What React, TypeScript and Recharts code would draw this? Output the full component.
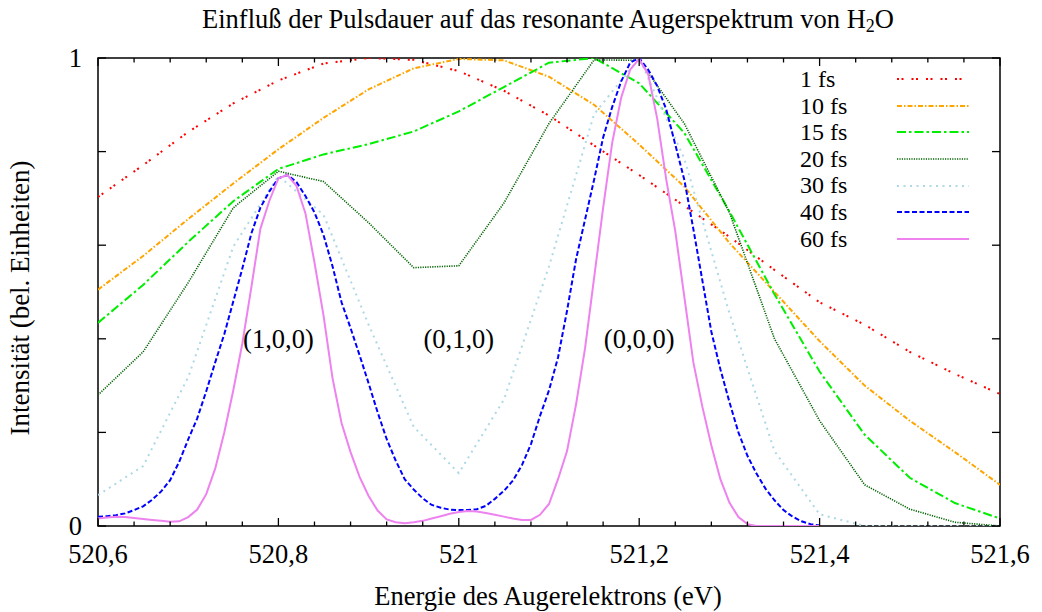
import React from "react";
import { LineChart, Line, XAxis, YAxis, ReferenceArea, ReferenceDot, Legend } from "recharts";

const FONT = "'Liberation Serif', 'Times New Roman', serif";
const FS = 26.5;
const W = 1042;
const H = 612;
const M = { top: 58, right: 42, bottom: 85, left: 97 };
const PLOT_W = 902;
const PLOT_H = 468;

// energy grids (eV)
const energyCoarse = [
  520.6, 520.65, 520.7, 520.75, 520.8, 520.85, 520.9, 520.95, 521.0, 521.05, 521.1,
  521.15, 521.2, 521.25, 521.3, 521.35, 521.4, 521.45, 521.5, 521.55, 521.6,
];
const energyFine = Array.from({ length: 81 }, (_, i) => Math.round((520.6 + i * 0.01) * 100) / 100);

// intensities
const fs1 = [0.703, 0.771, 0.842, 0.903, 0.952, 0.988, 1.0, 0.996, 0.972, 0.93, 0.877, 0.813, 0.75, 0.684, 0.618, 0.547, 0.478, 0.43, 0.372, 0.325, 0.282];
const fs10 = [0.505, 0.577, 0.656, 0.732, 0.805, 0.872, 0.933, 0.978, 0.998, 0.995, 0.96, 0.9, 0.815, 0.725, 0.605, 0.5, 0.395, 0.3, 0.225, 0.158, 0.088];
const fs15 = [0.434, 0.515, 0.607, 0.694, 0.763, 0.794, 0.816, 0.843, 0.886, 0.938, 0.99, 1.0, 0.946, 0.84, 0.672, 0.495, 0.33, 0.195, 0.103, 0.049, 0.016];
const fs20 = [0.28, 0.372, 0.52, 0.68, 0.758, 0.736, 0.648, 0.552, 0.556, 0.69, 0.86, 0.996, 0.995, 0.86, 0.67, 0.4, 0.225, 0.088, 0.036, 0.008, 0.0];
const fs30 = [0.066, 0.128, 0.318, 0.597, 0.748, 0.665, 0.43, 0.212, 0.113, 0.27, 0.555, 0.88, 1.0, 0.785, 0.455, 0.16, 0.025, 0.0, 0.0, 0.0, 0.0];
const fs40 = [
  0.02, 0.021, 0.023, 0.027, 0.034, 0.042, 0.056, 0.074, 0.098, 0.137,
  0.185, 0.23, 0.288, 0.35, 0.41, 0.48, 0.55, 0.625, 0.68, 0.715,
  0.743, 0.75, 0.735, 0.705, 0.67, 0.622, 0.555, 0.478, 0.423, 0.365,
  0.305, 0.243, 0.186, 0.14, 0.1, 0.078, 0.059, 0.045, 0.039, 0.035,
  0.034, 0.034, 0.036, 0.043, 0.058, 0.075, 0.097, 0.13, 0.175, 0.235,
  0.29, 0.36, 0.46, 0.57, 0.655, 0.74, 0.83, 0.895, 0.95, 0.99,
  1.0, 0.975, 0.94, 0.89, 0.815, 0.74, 0.635, 0.525, 0.415, 0.335,
  0.265, 0.2, 0.15, 0.112, 0.08, 0.055, 0.034, 0.02, 0.01, 0.004,
  0.001,
];
const fs60 = [
  0.016, 0.018, 0.02, 0.019, 0.017, 0.015, 0.013, 0.011, 0.009, 0.01,
  0.019, 0.035, 0.068, 0.123, 0.2, 0.29, 0.39, 0.51, 0.635, 0.695,
  0.743, 0.75, 0.727, 0.668, 0.563, 0.45, 0.316, 0.22, 0.158, 0.105,
  0.064, 0.033, 0.014, 0.008, 0.006, 0.008, 0.011, 0.016, 0.021, 0.026,
  0.03, 0.032, 0.031, 0.028, 0.024, 0.02, 0.016, 0.013, 0.013, 0.024,
  0.047, 0.1, 0.16, 0.26, 0.38, 0.53, 0.68, 0.818, 0.915, 0.975,
  0.998, 0.965, 0.87, 0.74, 0.63, 0.49, 0.35, 0.255, 0.172, 0.1,
  0.05, 0.019, 0.004, 0, 0, 0, 0, 0, 0, 0,
  0,
];

const xTicks = [
  520.6, 520.64, 520.68, 520.72, 520.76, 520.8, 520.84, 520.88, 520.92, 520.96, 521.0,
  521.04, 521.08, 521.12, 521.16, 521.2, 521.24, 521.28, 521.32, 521.36, 521.4,
  521.44, 521.48, 521.52, 521.56, 521.6,
];
const xLabelTicks = [520.6, 520.8, 521.0, 521.2, 521.4, 521.6];
const yTicks = [0, 0.2, 0.4, 0.6, 0.8, 1];
const yLabelTicks = [0, 1];

const peakLabels = [
  { energy: 520.8, level: 0.4, text: "(1,0,0)" },
  { energy: 521.0, level: 0.4, text: "(0,1,0)" },
  { energy: 521.2, level: 0.4, text: "(0,0,0)" },
];

const series = [
  { key: "fs1", name: "1 fs", values: fs1, grid: energyCoarse, color: "#ff0000", dash: "2 2.5 2 8", width: 2 },
  { key: "fs10", name: "10 fs", values: fs10, grid: energyCoarse, color: "#ffa500", dash: "5 2 1.5 2", width: 2 },
  { key: "fs15", name: "15 fs", values: fs15, grid: energyCoarse, color: "#00ee00", dash: "9 3 2.5 3", width: 2 },
  { key: "fs20", name: "20 fs", values: fs20, grid: energyCoarse, color: "#006400", dash: "1.2 1.2", width: 1.6 },
  { key: "fs30", name: "30 fs", values: fs30, grid: energyCoarse, color: "#add8e6", dash: "2 4.5", width: 2 },
  { key: "fs40", name: "40 fs", values: fs40, grid: energyFine, color: "#0000ff", dash: "5 2.5", width: 2 },
  { key: "fs60", name: "60 fs", values: fs60, grid: energyFine, color: "#ee82ee", dash: undefined, width: 2 },
];

const near = (list: number[], v: number) => list.some((t) => Math.abs(t - v) < 1e-6);
const fmt = (v: number) => String(Math.round(v * 10) / 10).replace(".", ",");

function XTick(props: any) {
  const { x, y, payload } = props;
  const major = near(xLabelTicks, payload.value);
  const len = major ? 8 : 4.5;
  return (
    <g>
      <line x1={x} x2={x} y1={y} y2={y - len} stroke="#000" strokeWidth={1.3} />
      <line x1={x} x2={x} y1={y - PLOT_H} y2={y - PLOT_H + len} stroke="#000" strokeWidth={1.3} />
      {major && (
        <text x={x} y={y + 37} textAnchor="middle" fontFamily={FONT} fontSize={FS} fill="#000">
          {fmt(payload.value)}
        </text>
      )}
    </g>
  );
}

function YTick(props: any) {
  const { x, y, payload } = props;
  const major = near(yLabelTicks, payload.value);
  return (
    <g>
      <line x1={x} x2={x + 8} y1={y} y2={y} stroke="#000" strokeWidth={1.3} />
      <line x1={x + PLOT_W} x2={x + PLOT_W - 8} y1={y} y2={y} stroke="#000" strokeWidth={1.3} />
      {major && (
        <text x={x - 16} y={y + 9} textAnchor="end" fontFamily={FONT} fontSize={FS} fill="#000">
          {fmt(payload.value)}
        </text>
      )}
    </g>
  );
}

function LegendBox() {
  return (
    <div style={{ fontFamily: FONT, fontSize: 24, color: "#000" }}>
      {series.map((s) => (
        <div key={s.key} style={{ display: "flex", alignItems: "center", height: 26.6 }}>
          <span style={{ width: 97, lineHeight: "26.6px", whiteSpace: "nowrap" }}>{s.name}</span>
          <svg width={72} height={6} style={{ display: "block" }}>
            <line x1={0} x2={72} y1={3} y2={3} stroke={s.color} strokeWidth={s.width} strokeDasharray={s.dash} />
          </svg>
        </div>
      ))}
    </div>
  );
}

export default function App() {
  const datasets = series.map((s) => s.grid.map((e, i) => ({ energy: e, value: s.values[i] })));

  return (
    <div style={{ position: "absolute", left: 0, top: 0, width: W, height: H, background: "#fff" }}>
      <LineChart width={W} height={H} margin={M}>
        <XAxis
          dataKey="energy"
          type="number"
          domain={[520.6, 521.6]}
          ticks={xTicks}
          interval={0}
          allowDataOverflow
          height={1}
          tickSize={0}
          tickMargin={0}
          axisLine={false}
          tickLine={false}
          tick={(p: any) => <XTick {...p} />}
        />
        <YAxis
          type="number"
          domain={[0, 1]}
          ticks={yTicks}
          interval={0}
          allowDataOverflow
          width={1}
          tickSize={0}
          tickMargin={0}
          axisLine={false}
          tickLine={false}
          tick={(p: any) => <YTick {...p} />}
        />
        <ReferenceArea x1={520.6} x2={521.6} y1={0} y2={1} fill="none" fillOpacity={0} stroke="#000" strokeWidth={1.5} />
        {series.map((s, i) => (
          <Line
            key={s.key}
            data={datasets[i]}
            dataKey="value"
            name={s.name}
            type="linear"
            stroke={s.color}
            strokeWidth={s.width}
            strokeDasharray={s.dash}
            dot={false}
            activeDot={false}
            isAnimationActive={false}
          />
        ))}
        {peakLabels.map((p) => (
          <ReferenceDot
            key={p.text}
            x={p.energy}
            y={p.level}
            r={0}
            fill="none"
            stroke="none"
            label={{ value: p.text, position: "center", fill: "#000", fontSize: FS, fontFamily: FONT }}
          />
        ))}
        <Legend
          layout="vertical"
          align="center"
          verticalAlign="middle"
          content={<LegendBox />}
          wrapperStyle={{ left: 800, top: 66, width: 180 }}
        />
      </LineChart>
      <svg width={W} height={H} style={{ position: "absolute", left: 0, top: 0, pointerEvents: "none" }}>
        <text x={548} y={28} textAnchor="middle" fontFamily={FONT} fontSize={FS} fill="#000">
          Einfluß der Pulsdauer auf das resonante Augerspektrum von H
          <tspan fontSize={18} dy={4}>2</tspan>
          <tspan dy={-4}>O</tspan>
        </text>
        <text x={548} y={605} textAnchor="middle" fontFamily={FONT} fontSize={FS} fill="#000">
          Energie des Augerelektrons (eV)
        </text>
        <text
          x={28.5}
          y={298}
          textAnchor="middle"
          transform="rotate(-90 28.5 298)"
          fontFamily={FONT}
          fontSize={27}
          fill="#000"
        >
          Intensität (bel. Einheiten)
        </text>
      </svg>
    </div>
  );
}
